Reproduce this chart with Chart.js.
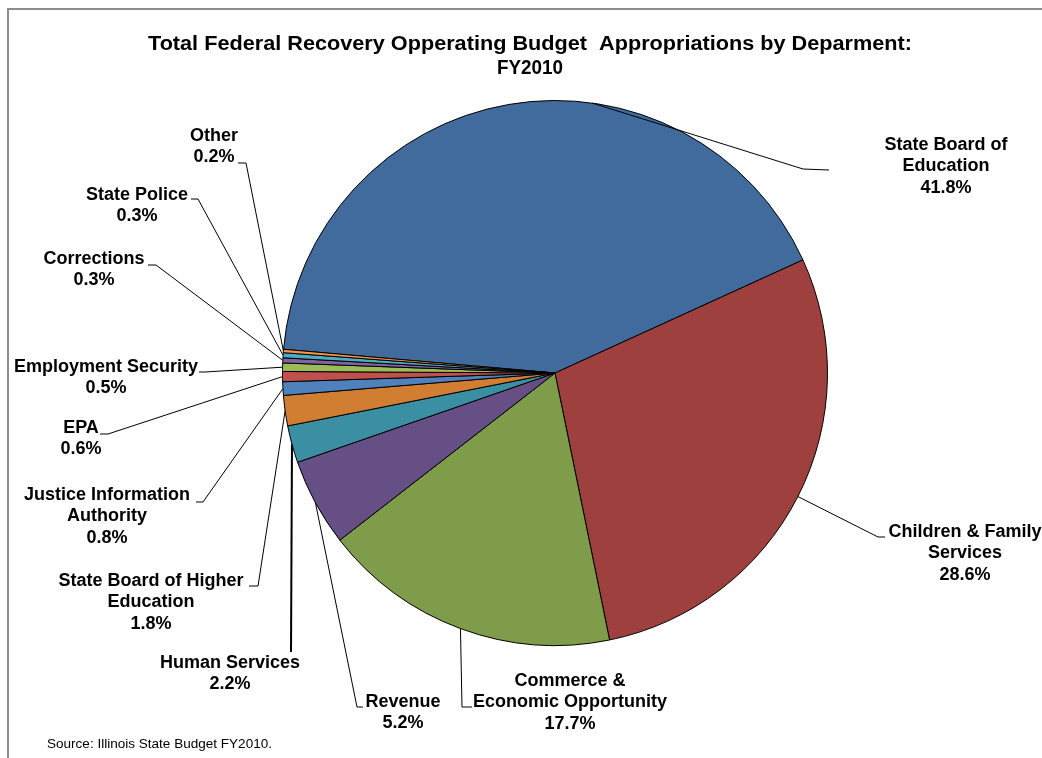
<!DOCTYPE html>
<html>
<head>
<meta charset="utf-8">
<script src="https://cdn.jsdelivr.net/npm/chart.js@4.4.1/dist/chart.umd.min.js"></script>
<style>
  html, body { margin: 0; padding: 0; background: #fff; }
  #wrap { width: 1042px; height: 758px; position: relative; }
</style>
</head>
<body>
<div id="wrap"><canvas id="pie" width="1042" height="758"></canvas></div>
<script>
// Data
const departments = [
  ["State Board of", "Education"],
  ["Children & Family", "Services"],
  ["Commerce &", "Economic Opportunity"],
  ["Revenue"],
  ["Human Services"],
  ["State Board of Higher", "Education"],
  ["Justice Information", "Authority"],
  ["EPA"],
  ["Employment Security"],
  ["Corrections"],
  ["State Police"],
  ["Other"]
];
const shares = [41.8, 28.6, 17.7, 5.2, 2.2, 1.8, 0.8, 0.6, 0.5, 0.3, 0.3, 0.2];
const sliceColors = [
  "#416A9D", "#9E413E", "#7F9C4A", "#664F84", "#3A8FA3", "#D17D32",
  "#4F81BD", "#C0504D", "#9BBB59", "#8064A2", "#4BACC6", "#F79646"
];

const titleLines = ["Total Federal Recovery Opperating Budget  Appropriations by Deparment:", "FY2010"];
const sourceNote = "Source: Illinois State Budget FY2010.";

// label layout: text centre x, first line y, leader elbow, leader hook end, anchor fraction along slice
const labelLayout = [
  { cx: 946, cy: 145, elbow: [803, 169], hook: [829, 170], frac: 0.617 },
  { cx: 965, cy: 532, elbow: [878, 537], hook: [885, 537] },
  { cx: 570, cy: 681, elbow: [462, 707], hook: [472, 707] },
  { cx: 403, cy: 702, elbow: [357, 707], hook: [363, 707] },
  { cx: 230, cy: 663, elbow: null, hook: [291, 652], width: 2 },
  { cx: 151, cy: 581, elbow: [258, 586], hook: [249, 586] },
  { cx: 107, cy: 495, elbow: [203, 502], hook: [196, 502] },
  { cx: 81, cy: 428, elbow: [108, 434], hook: [100, 434] },
  { cx: 106, cy: 367, elbow: [205, 372], hook: [199, 372] },
  { cx: 94, cy: 259, elbow: [156, 265], hook: [148, 265] },
  { cx: 137, cy: 195, elbow: [198, 199], hook: [191, 199] },
  { cx: 214, cy: 136, elbow: [246, 163], hook: [238, 163] }
];

const FONT = "'Liberation Sans', Arial, sans-serif";

function fitText(ctx, text, x, y, width) {
  const w = ctx.measureText(text).width;
  ctx.save();
  ctx.translate(x, y);
  ctx.scale(width / w, 1);
  ctx.fillText(text, 0, 0);
  ctx.restore();
}

const decorations = {
  id: "decorations",
  beforeDraw(chart) {
    const ctx = chart.ctx;
    ctx.save();
    ctx.fillStyle = "#fff";
    ctx.fillRect(0, 0, chart.width, chart.height);
    // outer frame
    ctx.strokeStyle = "#8c8c8c";
    ctx.lineWidth = 2;
    ctx.beginPath();
    ctx.moveTo(8, 770);
    ctx.lineTo(8, 9);
    ctx.lineTo(1060, 9);
    ctx.stroke();
    ctx.restore();
  },
  afterDraw(chart) {
    const ctx = chart.ctx;
    const meta = chart.getDatasetMeta(0);
    ctx.save();
    ctx.fillStyle = "#000";
    ctx.textAlign = "center";
    ctx.textBaseline = "middle";

    // title
    ctx.font = "bold 20px " + FONT;
    fitText(ctx, titleLines[0], 530, 44, 764);
    fitText(ctx, titleLines[1], 530, 68, 66);

    // leader lines + labels
    meta.data.forEach((arc, i) => {
      const lay = labelLayout[i];
      const p = arc.getProps(["x", "y", "startAngle", "endAngle", "outerRadius"], true);
      const f = lay.frac !== undefined ? lay.frac : 0.5;
      const a = p.startAngle + (p.endAngle - p.startAngle) * f;
      const sx = p.x + Math.cos(a) * p.outerRadius;
      const sy = p.y + Math.sin(a) * p.outerRadius;

      ctx.strokeStyle = "#000";
      ctx.lineWidth = lay.width || 1;
      ctx.beginPath();
      ctx.moveTo(sx, sy);
      if (lay.elbow) ctx.lineTo(lay.elbow[0], lay.elbow[1]);
      ctx.lineTo(lay.hook[0], lay.hook[1]);
      ctx.stroke();

      const lines = departments[i].concat([shares[i].toFixed(1) + "%"]);
      ctx.font = "bold 18px " + FONT;
      lines.forEach((t, k) => ctx.fillText(t, lay.cx, lay.cy + k * 21.5));
    });

    // source note
    ctx.textAlign = "left";
    ctx.font = "13px " + FONT;
    fitText(ctx, sourceNote, 47, 744, 225);
    ctx.restore();
  }
};

new Chart(document.getElementById("pie"), {
  type: "pie",
  data: {
    labels: departments,
    datasets: [{
      data: shares,
      backgroundColor: sliceColors,
      borderColor: "#000",
      borderWidth: 1
    }]
  },
  options: {
    responsive: false,
    animation: false,
    devicePixelRatio: 1,
    rotation: -85,
    layout: { padding: { left: 282, right: 214, top: 100, bottom: 112 } },
    plugins: {
      legend: { display: false },
      title: { display: false },
      tooltip: { enabled: false }
    }
  },
  plugins: [decorations]
});
</script>
</body>
</html>
